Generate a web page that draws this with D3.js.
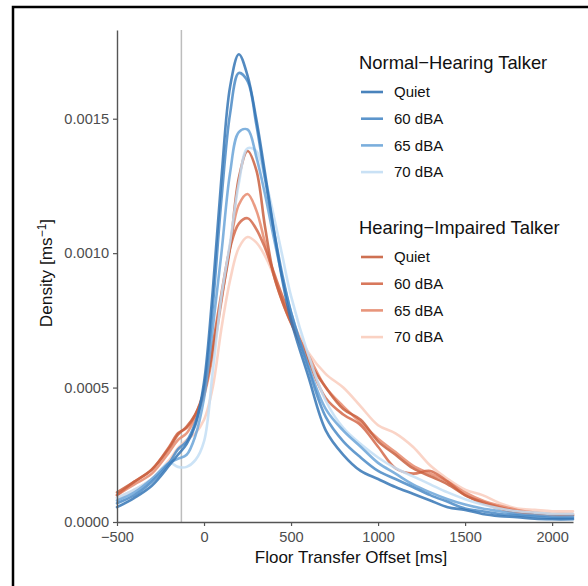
<!DOCTYPE html>
<html>
<head>
<meta charset="utf-8">
<script src="https://cdn.jsdelivr.net/npm/d3@7"></script>
<style>
  html, body { margin: 0; padding: 0; background: #fff; }
  svg { display: block; font-family: "Liberation Sans", Arial, Helvetica, sans-serif; }
</style>
</head>
<body>
<svg id="chart" width="588" height="586"></svg>
<script>
// Floor transfer offsets (ms) at which each density estimate is sampled
const offsets = [-500, -400, -300, -200, -150, -100, -50, 0, 50, 100, 150, 200, 250, 300, 350, 400, 450, 500,
                 600, 700, 800, 900, 1000, 1100, 1200, 1300, 1400, 1500, 1600, 1700, 1800, 1900, 2000, 2120];

// Normal-hearing talker, density (ms^-1) per listening condition
const nhQuiet = [0.55e-4, 0.9e-4, 1.35e-4, 2.1e-4, 2.5e-4, 2.9e-4, 3.6e-4, 5.2e-4, 8.6e-4, 12.8e-4, 16.2e-4, 17.4e-4, 16.6e-4, 15.0e-4, 13.0e-4, 10.9e-4, 9.0e-4, 7.5e-4,
                 5.4e-4, 3.4e-4, 2.5e-4, 1.9e-4, 1.6e-4, 1.3e-4, 1.05e-4, 0.8e-4, 0.55e-4, 0.45e-4, 0.3e-4, 0.22e-4, 0.18e-4, 0.12e-4, 0.1e-4, 0.1e-4];
const nh60 = [0.7e-4, 1.0e-4, 1.5e-4, 2.2e-4, 2.7e-4, 3.0e-4, 3.7e-4, 5.0e-4, 8.0e-4, 12.0e-4, 15.2e-4, 16.7e-4, 16.4e-4, 14.8e-4, 12.8e-4, 10.9e-4, 9.2e-4, 7.8e-4,
              5.7e-4, 3.9e-4, 3.0e-4, 2.4e-4, 1.9e-4, 1.6e-4, 1.3e-4, 1.0e-4, 0.75e-4, 0.5e-4, 0.4e-4, 0.3e-4, 0.25e-4, 0.2e-4, 0.15e-4, 0.15e-4];
const nh65 = [0.8e-4, 1.1e-4, 1.6e-4, 2.2e-4, 2.35e-4, 2.5e-4, 3.2e-4, 4.6e-4, 7.2e-4, 10.0e-4, 13.0e-4, 14.5e-4, 14.6e-4, 13.6e-4, 12.2e-4, 10.6e-4, 9.1e-4, 7.8e-4,
              5.8e-4, 4.2e-4, 3.4e-4, 2.8e-4, 2.2e-4, 1.8e-4, 1.4e-4, 1.1e-4, 0.85e-4, 0.65e-4, 0.5e-4, 0.4e-4, 0.3e-4, 0.25e-4, 0.2e-4, 0.2e-4];
const nh70 = [0.9e-4, 1.2e-4, 1.6e-4, 2.2e-4, 2.05e-4, 2.05e-4, 2.3e-4, 3.0e-4, 5.6e-4, 8.4e-4, 10.4e-4, 12.6e-4, 13.9e-4, 13.8e-4, 12.8e-4, 11.4e-4, 9.9e-4, 8.4e-4,
              6.2e-4, 4.5e-4, 3.5e-4, 2.9e-4, 2.4e-4, 2.0e-4, 1.7e-4, 1.4e-4, 1.1e-4, 0.85e-4, 0.65e-4, 0.5e-4, 0.4e-4, 0.35e-4, 0.3e-4, 0.3e-4];

// Hearing-impaired talker, density (ms^-1) per listening condition
const hiQuiet = [1.1e-4, 1.5e-4, 1.95e-4, 2.75e-4, 3.25e-4, 3.55e-4, 4.0e-4, 4.8e-4, 6.4e-4, 8.3e-4, 10.2e-4, 12.8e-4, 13.8e-4, 13.1e-4, 11.0e-4, 9.2e-4, 8.2e-4, 7.4e-4,
                 6.0e-4, 5.0e-4, 4.2e-4, 3.8e-4, 3.0e-4, 2.5e-4, 2.0e-4, 1.7e-4, 1.4e-4, 1.0e-4, 0.7e-4, 0.5e-4, 0.35e-4, 0.3e-4, 0.25e-4, 0.25e-4];
const hi60 = [1.0e-4, 1.5e-4, 1.95e-4, 2.8e-4, 3.3e-4, 3.5e-4, 4.0e-4, 4.9e-4, 6.6e-4, 8.5e-4, 10.2e-4, 11.1e-4, 11.3e-4, 10.9e-4, 10.2e-4, 9.3e-4, 8.4e-4, 7.6e-4,
              6.0e-4, 4.6e-4, 4.0e-4, 3.6e-4, 2.8e-4, 2.0e-4, 1.8e-4, 1.9e-4, 1.5e-4, 1.0e-4, 0.75e-4, 0.55e-4, 0.4e-4, 0.3e-4, 0.25e-4, 0.25e-4];
const hi65 = [1.0e-4, 1.4e-4, 1.8e-4, 2.6e-4, 3.05e-4, 3.3e-4, 3.9e-4, 4.7e-4, 6.2e-4, 8.2e-4, 10.3e-4, 11.8e-4, 12.2e-4, 11.6e-4, 10.4e-4, 9.2e-4, 8.2e-4, 7.4e-4,
              6.2e-4, 5.0e-4, 4.3e-4, 3.7e-4, 3.1e-4, 2.6e-4, 2.1e-4, 1.8e-4, 1.5e-4, 1.1e-4, 0.8e-4, 0.6e-4, 0.45e-4, 0.35e-4, 0.3e-4, 0.3e-4];
const hi70 = [0.9e-4, 1.2e-4, 1.6e-4, 2.3e-4, 2.75e-4, 3.05e-4, 3.3e-4, 3.8e-4, 5.0e-4, 7.2e-4, 9.0e-4, 10.2e-4, 10.6e-4, 10.4e-4, 9.9e-4, 9.2e-4, 8.4e-4, 7.6e-4,
              6.3e-4, 5.5e-4, 5.0e-4, 4.3e-4, 3.6e-4, 3.3e-4, 2.8e-4, 2.1e-4, 1.6e-4, 1.2e-4, 1.0e-4, 0.7e-4, 0.5e-4, 0.45e-4, 0.4e-4, 0.4e-4];

const conditions = ["Quiet", "60 dBA", "65 dBA", "70 dBA"];
const nhColors = ["#3576b5", "#4a8ac6", "#6ba5d8", "#c3def4"];
const hiColors = ["#c9603f", "#d4694a", "#e68a6d", "#f9cdbd"];

const xTicks = [-500, 0, 500, 1000, 1500, 2000];
const yTicks = [0, 0.0005, 0.0010, 0.0015];
const referenceOffset = -130;

const groups = [
  { title: "Normal\u2212Hearing Talker", series: [nhQuiet, nh60, nh65, nh70], colors: nhColors },
  { title: "Hearing\u2212Impaired Talker", series: [hiQuiet, hi60, hi65, hi70], colors: hiColors }
];

const svg = d3.select("#chart");

// Outer frame
svg.append("rect")
  .attr("x", 13).attr("y", 7).attr("width", 620).attr("height", 620)
  .attr("fill", "none").attr("stroke", "#000").attr("stroke-width", 2.5);

const x = d3.scaleLinear().domain([-500, 2120]).range([117, 573]);
const y = d3.scaleLinear().domain([0, 0.00183]).range([522, 30]);

// Reference line
svg.append("line")
  .attr("x1", x(referenceOffset)).attr("x2", x(referenceOffset))
  .attr("y1", y.range()[1]).attr("y2", y.range()[0])
  .attr("stroke", "#bdbdbd").attr("stroke-width", 1.5);

// Density curves: hearing-impaired first, normal-hearing on top, lighter conditions beneath darker
const line = d3.line()
  .x((d, i) => x(offsets[i]))
  .y(d => y(d))
  .curve(d3.curveCatmullRom.alpha(0.5));

const curves = svg.append("g").attr("fill", "none").attr("stroke-width", 2.6)
  .attr("stroke-linejoin", "round").attr("stroke-linecap", "round");
[groups[1], groups[0]].forEach(g => {
  for (let k = g.series.length - 1; k >= 0; k--) {
    curves.append("path")
      .attr("d", line(g.series[k]))
      .attr("stroke", g.colors[k])
      .attr("stroke-opacity", 0.85);
  }
});

// Axes
const axisColor = "#555";
const tickText = "#4d4d4d";

const yAxis = svg.append("g").attr("transform", `translate(${x(-500)},0)`)
  .call(d3.axisLeft(y).tickValues(yTicks).tickFormat(d3.format(".4f")).tickSize(4).tickSizeOuter(0).tickPadding(4));
const xAxis = svg.append("g").attr("transform", `translate(0,${y(0)})`)
  .call(d3.axisBottom(x).tickValues(xTicks).tickFormat(d3.format("d")).tickSize(4).tickSizeOuter(0).tickPadding(6));

[yAxis, xAxis].forEach(a => {
  a.select(".domain").attr("stroke", axisColor).attr("stroke-width", 1.4);
  a.selectAll(".tick line").attr("stroke", axisColor).attr("stroke-width", 1.2);
  a.selectAll(".tick text").attr("fill", tickText).attr("font-size", 14.6)
    .attr("font-family", "'Liberation Sans', Arial, Helvetica, sans-serif");
});

// Axis titles
svg.append("text")
  .attr("x", 351).attr("y", 563)
  .attr("text-anchor", "middle").attr("font-size", 17).attr("fill", "#111")
  .text("Floor Transfer Offset [ms]");

const yTitle = svg.append("text")
  .attr("transform", "translate(52,273) rotate(-90)")
  .attr("text-anchor", "middle").attr("font-size", 17.2).attr("fill", "#111");
yTitle.append("tspan").text("Density [ms");
yTitle.append("tspan").attr("font-size", 12).attr("dy", -6).text("\u22121");
yTitle.append("tspan").attr("dy", 6).text("]");

// Legends
const legendTop = [69, 234];
groups.forEach((g, gi) => {
  const lg = svg.append("g").attr("transform", `translate(359,${legendTop[gi]})`);
  lg.append("text").attr("x", 0).attr("y", 0)
    .attr("font-size", 18.4).attr("fill", "#111").text(g.title);
  conditions.forEach((c, k) => {
    const cy = 23 + k * 26.7;
    lg.append("line")
      .attr("x1", 2).attr("x2", 24).attr("y1", cy).attr("y2", cy)
      .attr("stroke", g.colors[k]).attr("stroke-width", 2.6).attr("stroke-opacity", 0.9);
    lg.append("text").attr("x", 35).attr("y", cy + 5.3)
      .attr("font-size", 15).attr("fill", "#111").text(c);
  });
});
</script>
</body>
</html>
